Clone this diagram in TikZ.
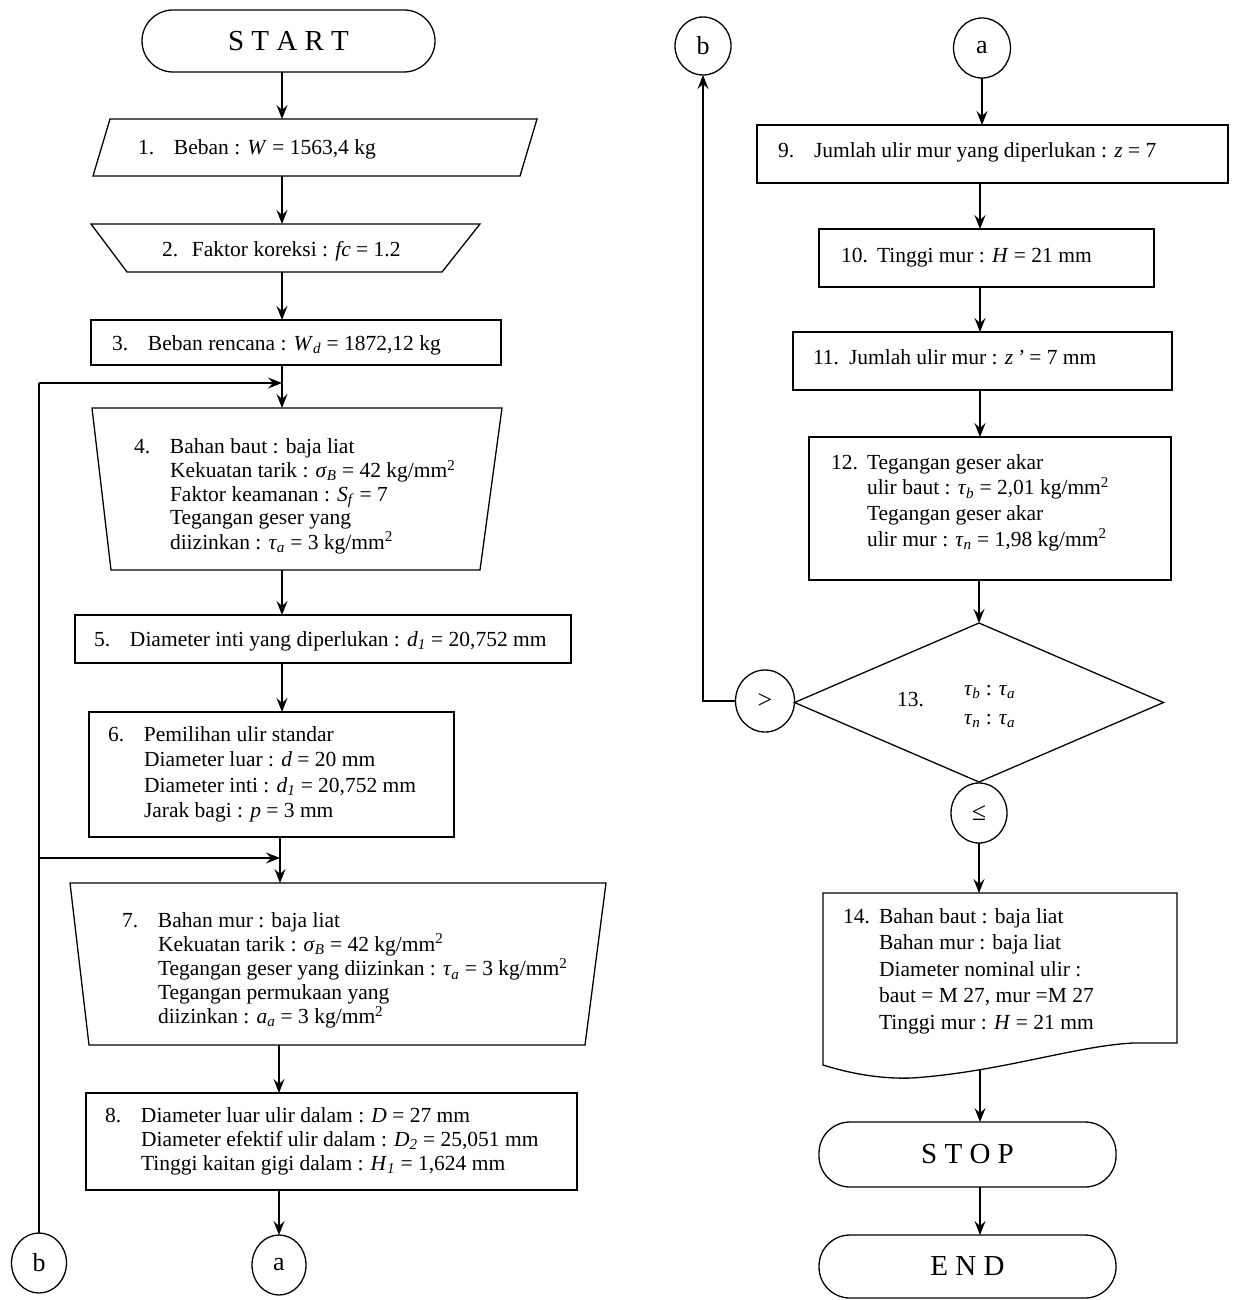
\documentclass[tikz,border=0pt]{standalone}
\usepackage{fontspec}
\setmainfont{Liberation Serif}
\usetikzlibrary{arrows.meta,shapes.geometric,calc}
\newcommand{\iv}[1]{\textit{#1}}
\newcommand{\sbs}[1]{\textsubscript{\textit{#1}}}
\newcommand{\sqr}{\textsuperscript{2}}
\newcommand{\blk}[3][36pt]{\begin{tabular}[t]{@{}l@{}}\llap{\makebox[#1][l]{#2}}#3\end{tabular}}
\tikzset{
  ln/.style={line width=1.3pt},
  arr/.style={line width=1.3pt,-{Stealth[length=14pt,width=11pt,inset=5pt]}},
  shp/.style={draw=none,inner sep=0pt,outer sep=0pt},
  boxr/.style={draw,line width=1.3pt,inner sep=0pt,outer sep=0pt},
  term/.style={draw,line width=1.3pt,rounded corners=31pt,inner sep=0pt,outer sep=0pt,font=\fontsize{29}{30}\selectfont},
  conn/.style={ellipse,draw,line width=1.3pt,inner sep=0pt,outer sep=0pt,font=\fontsize{26}{28}\selectfont},
  txt/.style={anchor=base west,inner sep=0pt,outer sep=0pt,font=\fontsize{21.5}{#1}\selectfont},
  txt/.default=24
}
\begin{document}
\begin{tikzpicture}[x=1pt,y=-1pt]
\useasboundingbox[fill=white] (0,0) rectangle (1232,1300);
\renewcommand{\arraystretch}{1}

% ---------- left column ----------
\node[term,minimum width=293pt,minimum height=62pt] (start) at (288.5,41) {S T A R T};

\node[shp,minimum width=444pt,minimum height=57pt] (n1) at (315,147.5) {};
\draw[ln] ([xshift=17pt]n1.north west) -- (n1.north east) -- ([xshift=-17pt]n1.south east) -- (n1.south west) -- cycle;
\node[txt] (t1) at (174,155) {\blk{1.}{Beban : \iv{W} = 1563,4 kg}};

\node[shp,minimum width=389pt,minimum height=48pt] (n2) at (285.5,248) {};
\draw[ln] (n2.north west) -- (n2.north east) -- ([xshift=-38pt]n2.south east) -- ([xshift=36pt]n2.south west) -- cycle;
\node[txt] (t2) at (192,256) {\blk[30pt]{2.}{Faktor koreksi : \iv{fc} = 1.2}};

\node[boxr,minimum width=410pt,minimum height=45pt] (n3) at (296,342.5) {};
\node[txt] (t3) at (148,350) {\blk{3.}{Beban rencana : \iv{W}\sbs{d} = 1872,12 kg}};

\node[shp,minimum width=410pt,minimum height=162pt] (n4) at (297,489) {};
\draw[ln] (n4.north west) -- (n4.north east) -- ([xshift=-22pt]n4.south east) -- ([xshift=19pt]n4.south west) -- cycle;
\node[txt=23.5] (t4) at (170,453) {\blk{4.}{Bahan baut : baja liat\\
Kekuatan tarik : \iv{σ}\sbs{B} = 42 kg/mm\sqr\\
Faktor keamanan : \iv{S}\sbs{f} = 7\\
Tegangan geser yang\\
diizinkan : \iv{τ}\sbs{a} = 3 kg/mm\sqr}};

\node[boxr,minimum width=496pt,minimum height=48pt] (n5) at (323,639) {};
\node[txt] (t5) at (130,646) {\blk{5.}{Diameter inti yang diperlukan : \iv{d}\sbs{1} = 20,752 mm}};

\node[boxr,minimum width=365pt,minimum height=125pt] (n6) at (271.5,774.5) {};
\node[txt=25.5] (t6) at (144,741) {\blk{6.}{Pemilihan ulir standar\\
Diameter luar : \iv{d} = 20 mm\\
Diameter inti : \iv{d}\sbs{1} = 20,752 mm\\
Jarak bagi : \iv{p} = 3 mm}};

\node[shp,minimum width=536pt,minimum height=162pt] (n7) at (338,964) {};
\draw[ln] (n7.north west) -- (n7.north east) -- ([xshift=-21pt]n7.south east) -- ([xshift=19pt]n7.south west) -- cycle;
\node[txt=23.3] (t7) at (158,927) {\blk{7.}{Bahan mur : baja liat\\
Kekuatan tarik : \iv{σ}\sbs{B} = 42 kg/mm\sqr\\
Tegangan geser yang diizinkan : \iv{τ}\sbs{a} = 3 kg/mm\sqr\\
Tegangan permukaan yang\\
diizinkan : \iv{a}\sbs{a} = 3 kg/mm\sqr}};

\node[boxr,minimum width=491pt,minimum height=97pt] (n8) at (331.5,1141.5) {};
\node[txt] (t8) at (141,1122) {\blk{8.}{Diameter luar ulir dalam : \iv{D} = 27 mm\\
Diameter efektif ulir dalam : \iv{D}\sbs{2} = 25,051 mm\\
Tinggi kaitan gigi dalam : \iv{H}\sbs{1} = 1,624 mm}};

\node[conn,minimum width=54pt,minimum height=60pt] (aL) at (279,1265) {a};
\node[conn,minimum width=55pt,minimum height=60pt] (bL) at (39,1263) {b};

\coordinate (colL) at (282,0);
\coordinate (colL2) at (280,0);
\coordinate (m1) at (282,383);
\coordinate (m2) at (280,858);

\draw[arr] (start.south -| colL) -- (n1.north -| colL);
\draw[arr] (n1.south -| colL) -- (n2.north -| colL);
\draw[arr] (n2.south -| colL) -- (n3.north -| colL);
\draw[arr] (n3.south -| colL) -- (n4.north -| colL);
\draw[arr] (n4.south -| colL) -- (n5.north -| colL);
\draw[arr] (n5.south -| colL) -- (n6.north -| colL);
\draw[arr] (n6.south -| colL2) -- (n7.north -| colL2);
\draw[arr] (n7.south -| aL) -- (n8.north -| aL);
\draw[arr] (n8.south -| aL) -- (aL.north);
\draw[ln] (bL.north) -- (bL.north |- m1);
\draw[arr] (bL.north |- m1) -- (m1);
\draw[arr] (bL.north |- m2) -- (m2);

% ---------- right column ----------
\node[conn,minimum width=56pt,minimum height=58pt] (bR) at (703,46) {b};
\node[conn,minimum width=57pt,minimum height=60pt] (aR) at (982,48) {a};

\node[boxr,minimum width=471pt,minimum height=58pt] (n9) at (992.5,154) {};
\node[txt] (t9) at (814,158) {\blk{9.}{Jumlah ulir mur yang diperlukan : \iv{z} = 7}};

\node[boxr,minimum width=335pt,minimum height=58pt] (n10) at (986.5,258) {};
\node[txt] (t10) at (877,262) {\blk{10.}{Tinggi mur : \iv{H} = 21 mm}};

\node[boxr,minimum width=379pt,minimum height=58pt] (n11) at (982.5,361) {};
\node[txt] (t11) at (849,364) {\blk{11.}{Jumlah ulir mur : \iv{z\,'} = 7 mm}};

\node[boxr,minimum width=362pt,minimum height=143pt] (n12) at (990,508.5) {};
\node[txt=25.7] (t12) at (867,469) {\blk{12.}{Tegangan geser akar\\
ulir baut : \iv{τ}\sbs{b} = 2,01 kg/mm\sqr\\
Tegangan geser akar\\
ulir mur : \iv{τ}\sbs{n} = 1,98 kg/mm\sqr}};

\node[shp,minimum width=369pt,minimum height=159pt] (dm) at (979,702.5) {};
\draw[ln] (dm.north) -- (dm.east) -- (dm.south) -- (dm.west) -- cycle;
\node[txt] (t13n) at (897,706) {13.};
\node[txt=29] (t13) at (964,695) {\begin{tabular}[t]{@{}l@{}}\iv{τ}\sbs{b} : \iv{τ}\sbs{a}\\ \iv{τ}\sbs{n} : \iv{τ}\sbs{a}\end{tabular}};

\node[conn,minimum width=59pt,minimum height=62pt] (gt) at (765,701) {>};
\node[conn,minimum width=56pt,minimum height=60pt] (le) at (979,813) {≤};

\node[shp,minimum width=354pt,minimum height=176pt] (n14) at (1000,981) {};
\draw[ln] (823,1065) .. controls (855,1075) and (885,1079) .. (912,1078)
  .. controls (1000,1072) and (1075,1046) .. (1133,1043)
  -- (1177,1043) -- (1177,893) -- (823,893) -- cycle;
\node[txt=26.5] (t14) at (879,923) {\blk{14.}{Bahan baut : baja liat\\
Bahan mur : baja liat\\
Diameter nominal ulir :\\
baut = M 27, mur =M 27\\
Tinggi mur : \iv{H} = 21 mm}};

\node[term,minimum width=297pt,minimum height=65pt] (stop) at (967.5,1154.5) {S T O P};
\node[term,minimum width=297pt,minimum height=63pt] (endn) at (967.5,1266.5) {E N D};

\coordinate (colR) at (980,0);
\draw[arr] (aR.south) -- (aR.south |- n9.north);
\draw[arr] (n9.south -| colR) -- (n10.north -| colR);
\draw[arr] (n10.south -| colR) -- (n11.north -| colR);
\draw[arr] (n11.south -| colR) -- (n12.north -| colR);
\draw[arr] (n12.south -| dm.north) -- (dm.north);
\draw[arr] (le.south) -- (le.south |- n14.north);
\draw[arr] (n14.south -| colR) -- (stop.north -| colR);
\draw[arr] (stop.south -| colR) -- (endn.north -| colR);
\draw[arr] (gt.west) -| (bR.south);
\end{tikzpicture}
\end{document}
